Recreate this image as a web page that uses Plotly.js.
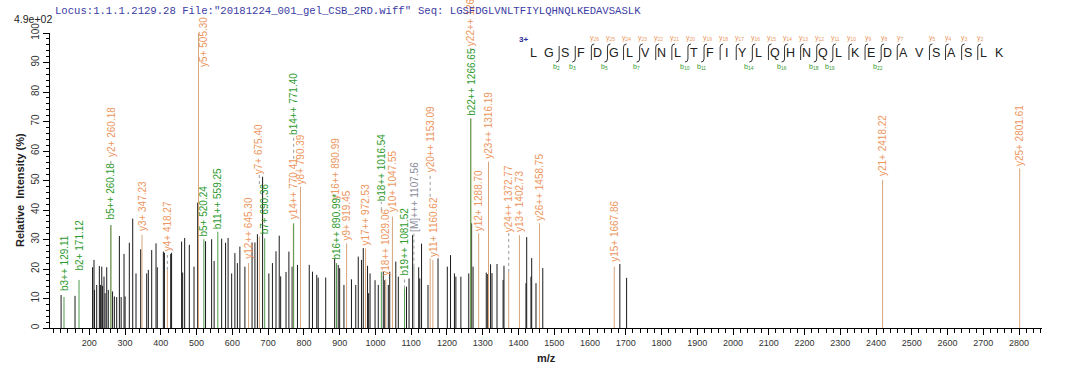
<!DOCTYPE html>
<html><head><meta charset="utf-8">
<script src="https://cdn.plot.ly/plotly-3.0.1.min.js"></script>
<style>html,body{margin:0;padding:0;background:#fff;} #chart{width:1080px;height:375px;}</style>
</head><body><div id="chart"></div>
<script>
// ================= DATA =================
const unmatchedMz = [121, 160, 209, 213, 214.5, 220.6, 228, 231, 234.7, 237, 241, 244, 248.6, 253, 265, 270, 276.5, 284, 289, 297, 300, 311.8, 321.3, 330.5, 343.6, 360.4, 365, 374.4, 386.5, 390, 407, 410, 427.5, 430, 458, 461, 466.6, 479.6, 492.7, 503, 525, 542, 549, 570, 581, 588, 598, 607, 614, 621, 635, 655, 663, 670, 684.5, 702, 712, 722, 731, 735, 750, 758, 767, 782, 815, 824, 836, 840, 861, 886, 896, 900, 912, 933, 945, 952, 961, 966, 978, 981, 985, 999, 1008, 1022, 1026, 1036, 1040, 1057, 1064, 1087, 1094, 1104, 1121, 1124, 1129, 1147, 1175, 1201, 1210, 1221, 1225, 1239, 1261, 1269, 1273, 1310, 1314, 1322, 1326, 1340, 1357, 1359.5, 1421, 1423, 1435, 1437, 1449, 1468, 1683.5, 1702.4];
const unmatchedInt = [11.2, 10.9, 20.6, 23.1, 12.9, 14.6, 21.0, 14.6, 20.8, 14.3, 17.4, 11.8, 20.6, 12.9, 12.4, 10.7, 10.5, 31.2, 10.5, 25.1, 10.7, 28.9, 37.1, 18.5, 26.7, 18.5, 19.7, 26.4, 28.7, 20.6, 25.9, 25.5, 25.1, 25.5, 29.3, 18.8, 30.5, 28.2, 20.8, 42.5, 29.4, 30.1, 22.7, 30.3, 28.9, 30.5, 18.5, 25.4, 22, 27.6, 20.8, 29, 29, 31.8, 51.3, 18.5, 22, 26, 31.3, 17.5, 19, 25.9, 20.8, 21.4, 21.4, 19.1, 18, 17.1, 17.1, 23.6, 21.4, 20.3, 14.6, 16.5, 14.6, 24.2, 23.1, 27.1, 21.1, 11.8, 18.5, 16.2, 14.6, 19.1, 16.2, 14.6, 19.1, 22.5, 17.4, 14.0, 16.8, 31.5, 20.6, 16.8, 28.6, 14.6, 23.6, 20.8, 24.7, 18.5, 17.4, 17.4, 18.5, 35.5, 20.8, 18.8, 18.3, 21.6, 18.6, 21.7, 16.3, 21.1, 15.2, 30.8, 17.4, 23.7, 15.2, 20.3, 21.7, 17];

const ionLabels = ["b3++ 129.11", "b2+ 171.12", "y2+ 260.18", "b5++ 260.18", "y3+ 347.23", "y4+ 418.27", "y5+ 505.30", "b5+ 520.24", "b11++ 559.25", "y12++ 645.30", "y7+ 675.40", "b7+ 690.36", "y14++ 770.41", "b14++ 771.40", "y8+ 790.39", "y16++ 890.99", "b16++ 890.99*", "y9+ 919.45", "y17++ 972.53", "b18++ 1016.54", "y18++ 1029.06", "y10+ 1047.55", "b19++ 1081.52", "[M]+++ 1107.56", "y20++ 1153.09", "y11+ 1160.62", "y22++ 1266.66", "b22++ 1266.65", "y12+ 1288.70", "y23++ 1316.19", "y24++ 1372.77", "y13+ 1402.73", "y26++ 1458.75", "y15+ 1667.86", "y21+ 2418.22", "y25+ 2801.61"];
const ionMz = [129.11, 171.12, 260.18, 260.18, 347.23, 418.27, 505.30, 520.24, 559.25, 645.30, 675.40, 690.36, 770.41, 771.40, 790.39, 890.99, 890.99, 919.45, 972.53, 1016.54, 1029.06, 1047.55, 1081.52, 1107.56, 1153.09, 1160.62, 1266.66, 1266.65, 1288.70, 1316.19, 1372.77, 1402.73, 1458.75, 1667.86, 2418.22, 2801.61];
const ionInt = [10.5, 16.3, 34.9, 34.9, 31.6, 19.7, 100, 30.1, 32.6, 22, 31, 30.4, 35.0, 35.5, 47.9, 22, 22, 28.7, 27, 19.1, 16.5, 37.8, 13.4, 20.8, 23.6, 23, 71, 71, 32.1, 56.4, 19, 31.5, 35.5, 20.8, 50.2, 54.1];
const ionType = ["b", "b", "y", "b", "y", "y", "y", "b", "b", "y", "y", "b", "y", "b", "y", "y", "b", "y", "y", "b", "y", "y", "b", "M", "y", "y", "y", "b", "y", "y", "y", "y", "y", "y", "y", "y"];

const sequence = "LGSFDGLVNLTFIYLQHNQLKEDAVSASLK";
const bCoverage = [2, 3, 5, 7, 10, 11, 14, 16, 18, 19, 22];
const yCoverage = [26, 25, 24, 23, 22, 21, 20, 19, 18, 17, 16, 15, 14, 13, 12, 11, 10, 9, 8, 7, 5, 4, 3, 2];
const chargeText = "3+";

const xTickVals = [200, 300, 400, 500, 600, 700, 800, 900, 1000, 1100, 1200, 1300, 1400, 1500, 1600, 1700, 1800, 1900, 2000, 2100, 2200, 2300, 2400, 2500, 2600, 2700, 2800];
const yTickVals = [0, 10, 20, 30, 40, 50, 60, 70, 80, 90, 100];
const headerLocus = 'Locus:1.1.1.2129.28 File:"20181224_001_gel_CSB_2RD.wiff"';
const headerSeq = 'Seq: ' + sequence;
const scaleText = '4.9e+02';
const xTitle = 'm/z';
const yTitle = 'Relative\u00a0\u00a0Intensity (%)';

// ================= LAYOUT CONFIG =================
const PL = 50, PR = 1042, PT = 33, PB = 328;      // plot area in px
const XMIN = 90, XMAX = 2864;
// label base heights (intensity units) for ion annotations, same order as ionLabels
const labelBase = [12.2, 19, 57.6, 36.6, 32.5, 25.8, 88, 30.8, 33.2, 23, 51.9, 31.5, 36.6, 65, 48.5, 43.4, 23, 29.2, 27.5, 42.7, 17.5, 39, 17.3, 32.2, 52.5, 23.7, 95.3, 71.5, 32.5, 57, 32.2, 32.2, 36, 22, 51.2, 54.6];
const labelXShift = {6: 5};
const SANS = 'Liberation Sans, Arial, sans-serif';
const MONO = 'Liberation Mono, Courier New, monospace';

const COL = {
  b: {line: '#4e9a4e', text: '#2f9a2f'},
  y: {line: '#d6a67c', text: '#ec9660'},
  M: {line: '#8a8a8a', text: '#8a8a9a'}
};

function sticks(mz, inten) {
  const x = [], y = [];
  mz.forEach((m, i) => { x.push(m, m, null); y.push(0, inten[i], null); });
  return {x, y};
}
function filt(t) {
  const m = [], v = [];
  ionType.forEach((tp, i) => { if (tp === t) { m.push(ionMz[i]); v.push(ionInt[i]); } });
  return sticks(m, v);
}

const traces = [];
const u = sticks(unmatchedMz, unmatchedInt);
traces.push({type: 'scatter', mode: 'lines', x: u.x, y: u.y, line: {color: '#1a1a1a', width: 1}, hoverinfo: 'skip', cliponaxis: false});
['M', 'y', 'b'].forEach(t => {
  const s = filt(t);
  traces.push({type: 'scatter', mode: 'lines', x: s.x, y: s.y, line: {color: COL[t].line, width: 1}, hoverinfo: 'skip', cliponaxis: false});
});

const pxPerUnitY = (PB - PT) / 100;
const pxPerMz = (PR - PL) / (XMAX - XMIN);
const px2paperX = px => (px - PL) / (PR - PL);
const px2paperY = py => (PB - py) / (PB - PT);
const CHAR_PX = 5.1;

const annotations = [];
const shapes = [];

// ion labels
ionLabels.forEach((txt, i) => {
  const t = ionType[i];
  annotations.push({
    x: ionMz[i], y: labelBase[i], xref: 'x', yref: 'y',
    text: txt, textangle: -90, showarrow: false,
    xanchor: 'center', yanchor: 'bottom', borderpad: 0,
    xshift: labelXShift[i] || 0,
    font: {family: SANS, size: 10, color: COL[t].text}
  });
});
// dotted connectors for lifted labels
ionLabels.forEach((txt, i) => {
  const base = labelBase[i];
  if (base - ionInt[i] <= 3) return;
  let start = ionInt[i];
  ionLabels.forEach((t2, j) => {
    if (j === i) return;
    const dx = Math.abs(ionMz[j] - ionMz[i]) * pxPerMz;
    const top = labelBase[j] + t2.length * CHAR_PX / pxPerUnitY;
    if (dx < 6 && labelBase[j] < base && top > start) start = Math.min(top, base);
  });
  if (base - start > 0.5) {
    shapes.push({type: 'line', xref: 'x', yref: 'y', x0: ionMz[i], x1: ionMz[i], y0: start, y1: base,
      line: {color: '#9a9a9a', width: 1, dash: 'dot'}, layer: 'above'});
  }
});

// header texts
annotations.push({xref: 'paper', yref: 'paper', x: px2paperX(53), y: px2paperY(11), xanchor: 'left', yanchor: 'middle',
  text: headerLocus, showarrow: false, font: {family: MONO, size: 10.6, color: '#3b3ba4'}});
annotations.push({xref: 'paper', yref: 'paper', x: px2paperX(416), y: px2paperY(11), xanchor: 'left', yanchor: 'middle',
  text: headerSeq, showarrow: false, font: {family: MONO, size: 10.6, color: '#3b3ba4'}});
annotations.push({xref: 'paper', yref: 'paper', x: px2paperX(12), y: px2paperY(19), xanchor: 'left', yanchor: 'middle',
  text: scaleText, showarrow: false, font: {family: SANS, size: 10.5, color: '#222'}});
// axis titles
annotations.push({xref: 'paper', yref: 'paper', x: px2paperX(20), y: px2paperY(190), xanchor: 'center', yanchor: 'middle',
  text: '<b>' + yTitle + '</b>', textangle: -90, showarrow: false, font: {family: SANS, size: 11, color: '#222'}});
annotations.push({xref: 'paper', yref: 'paper', x: px2paperX(546), y: px2paperY(358), xanchor: 'center', yanchor: 'middle',
  text: '<b>' + xTitle + '</b>', showarrow: false, font: {family: SANS, size: 11, color: '#222'}});

// sequence coverage graphic
const SEQ_X0 = 533, SEQ_DX = 16.1, SEQ_Y = 53;
const letterX = i => SEQ_X0 + i * SEQ_DX;
annotations.push({xref: 'paper', yref: 'paper', x: px2paperX(523), y: px2paperY(39), xanchor: 'center', yanchor: 'middle',
  text: '<b>' + chargeText + '</b>', showarrow: false, font: {family: SANS, size: 8, color: '#2a2a9a'}});
sequence.split('').forEach((ch, i) => {
  annotations.push({xref: 'paper', yref: 'paper', x: px2paperX(letterX(i)), y: px2paperY(SEQ_Y), xanchor: 'center', yanchor: 'middle',
    text: ch, showarrow: false, font: {family: SANS, size: 12.5, color: '#222'}});
});
const N = sequence.length;
for (let k = 1; k < N; k++) {
  const hasB = bCoverage.includes(k);
  const yn = N - k;
  const hasY = yCoverage.includes(yn);
  if (!hasB && !hasY) continue;
  const bx = (letterX(k - 1) + letterX(k)) / 2 + 2;
  const top = 46, bot = 60;
  const P = (x, y) => px2paperX(x).toFixed(5) + ',' + px2paperY(y).toFixed(5);
  let path = '';
  if (hasY) path += 'M' + P(bx + 3, top - 2) + ' Q' + P(bx, top - 2) + ' ' + P(bx, top + 1);
  else path += 'M' + P(bx, top);
  if (hasB) path += ' L' + P(bx, bot - 1) + ' Q' + P(bx, bot + 2) + ' ' + P(bx - 3, bot + 2);
  else path += ' L' + P(bx, bot);
  shapes.push({type: 'path', xref: 'paper', yref: 'paper', path: path, line: {color: '#333', width: 1}, layer: 'above'});
  if (hasY) annotations.push({xref: 'paper', yref: 'paper', x: px2paperX(bx + 3), y: px2paperY(38), xanchor: 'center', yanchor: 'middle',
    text: 'y<sub>' + yn + '</sub>', showarrow: false, font: {family: SANS, size: 7, color: COL.y.text}});
  if (hasB) annotations.push({xref: 'paper', yref: 'paper', x: px2paperX(bx - 3), y: px2paperY(67), xanchor: 'center', yanchor: 'middle',
    text: 'b<sub>' + k + '</sub>', showarrow: false, font: {family: SANS, size: 7, color: COL.b.text}});
}

const layout = {
  width: 1080, height: 375,
  margin: {l: PL, r: 1080 - PR, t: PT, b: 375 - PB, pad: 0},
  paper_bgcolor: '#fff', plot_bgcolor: '#fff', showlegend: false,
  font: {family: SANS, size: 10, color: '#333'},
  xaxis: {
    range: [XMIN, XMAX], showgrid: false, zeroline: false, showline: true, linecolor: '#000', linewidth: 1,
    ticks: 'outside', ticklen: 6, tickcolor: '#000', tickwidth: 1,
    tickmode: 'array', tickvals: xTickVals, ticktext: xTickVals.map(String),
    tickfont: {size: 9, color: '#333'},
    minor: {tickmode: 'linear', tick0: 0, dtick: 20, ticks: 'outside', ticklen: 3.5, tickcolor: '#000', showgrid: false}
  },
  yaxis: {
    range: [0, 100], showgrid: false, zeroline: false, showline: true, linecolor: '#000', linewidth: 1,
    ticks: 'outside', ticklen: 6, tickcolor: '#000', tickwidth: 1,
    tickmode: 'array', tickvals: yTickVals, ticktext: yTickVals.map(String), tickangle: -90,
    tickfont: {size: 10, color: '#333'},
    minor: {tickmode: 'linear', tick0: 0, dtick: 2, ticks: 'outside', ticklen: 3.5, tickcolor: '#000', showgrid: false}
  },
  annotations: annotations,
  shapes: shapes
};

Plotly.newPlot('chart', traces, layout, {staticPlot: true, displayModeBar: false});
</script>
</body></html>
